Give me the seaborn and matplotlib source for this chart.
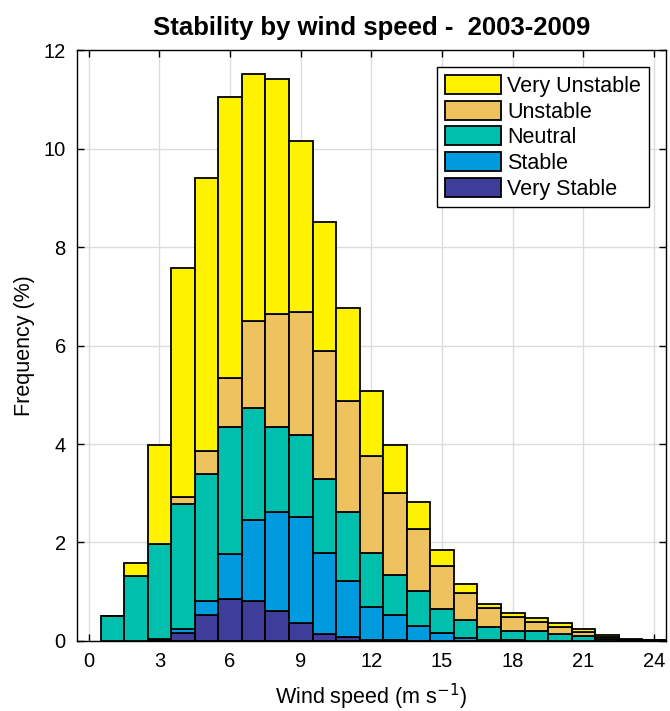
import numpy as np
import pandas as pd
import matplotlib
matplotlib.use("Agg")
import matplotlib.pyplot as plt
from matplotlib.patches import Patch
import seaborn as sns

# Wind speed bin centres (m/s), 1 m/s wide
speed = list(range(1, 25))

# Frequency (%) of each stability class per wind speed bin
very_stable = [0.00, 0.00, 0.01, 0.17, 0.52, 0.86, 0.82, 0.61, 0.36, 0.15, 0.08, 0.02,
               0.01, 0.00, 0.00, 0.00, 0.00, 0.00, 0.00, 0.00, 0.00, 0.00, 0.00, 0.00]
stable = [0.00, 0.00, 0.02, 0.08, 0.30, 0.91, 1.64, 2.01, 2.15, 1.63, 1.14, 0.67,
          0.51, 0.30, 0.17, 0.06, 0.02, 0.01, 0.00, 0.00, 0.00, 0.00, 0.00, 0.00]
neutral = [0.50, 1.32, 1.94, 2.54, 2.57, 2.58, 2.27, 1.73, 1.68, 1.50, 1.39, 1.10,
           0.82, 0.71, 0.48, 0.36, 0.27, 0.20, 0.21, 0.15, 0.10, 0.03, 0.01, 0.00]
unstable = [0.00, 0.00, 0.00, 0.14, 0.46, 1.00, 1.77, 2.30, 2.50, 2.61, 2.27, 1.97,
            1.66, 1.27, 0.88, 0.56, 0.38, 0.27, 0.18, 0.14, 0.08, 0.06, 0.01, 0.01]
very_unstable = [0.00, 0.27, 2.01, 4.65, 5.56, 5.70, 5.02, 4.77, 3.46, 2.61, 1.89, 1.32,
                 0.98, 0.55, 0.32, 0.17, 0.08, 0.08, 0.07, 0.07, 0.07, 0.03, 0.01, 0.01]

classes = ["Very Unstable", "Unstable", "Neutral", "Stable", "Very Stable"]
colors = ["#FFF200", "#EDC25F", "#00BFAD", "#009ADE", "#3E3D99"]

x_ticks = [0, 3, 6, 9, 12, 15, 18, 21, 24]
y_ticks = [0, 2, 4, 6, 8, 10, 12]

series = {
    "Very Unstable": very_unstable,
    "Unstable": unstable,
    "Neutral": neutral,
    "Stable": stable,
    "Very Stable": very_stable,
}
df = pd.concat(
    [pd.DataFrame({"speed": speed, "freq": vals, "stability": name})
     for name, vals in series.items()],
    ignore_index=True,
)

sns.set_theme(style="white")
plt.rcParams["font.family"] = ["Liberation Sans", "DejaVu Sans"]
plt.rcParams.update({
    "text.color": "black",
    "axes.labelcolor": "black",
    "xtick.color": "black",
    "ytick.color": "black",
})

fig = plt.figure(figsize=(6.70, 7.11), dpi=100)
ax = fig.add_axes([0.1149, 0.0985, 0.879, 0.831])

# First hue level ends up on top of the stack
sns.histplot(
    data=df, x="speed", weights="freq", hue="stability",
    hue_order=classes, palette=colors, multiple="stack",
    discrete=True, shrink=1.0, alpha=1.0,
    edgecolor="black", linewidth=1.3, legend=False, ax=ax,
)

ax.set_xlim(-0.5, 24.5)
ax.set_ylim(0, 12)
ax.set_xticks(x_ticks)
ax.set_yticks(y_ticks)
ax.set_axisbelow(True)
ax.grid(True, color="#DCDCDC", linewidth=1.0)
ax.tick_params(direction="in", length=5, width=1, colors="black",
               labelsize=14.5, top=True, right=True, bottom=True, left=True,
               labeltop=False, labelright=False, pad=8)
for s in ax.spines.values():
    s.set_color("black")
    s.set_linewidth(1.0)
    s.set_visible(True)

ax.set_xlabel("Wind speed (m s$^{-1}$)", fontsize=15.5, labelpad=8)
ax.set_ylabel("Frequency (%)", fontsize=15.5, labelpad=6)
ax.set_title("Stability by wind speed -  2003-2009", fontsize=18.5,
             fontweight="bold", pad=11, color="black")

handles = [Patch(facecolor=c, edgecolor="black", linewidth=1.3) for c in colors]
leg = ax.legend(handles, classes, loc="upper right", fontsize=15.5,
                frameon=True, fancybox=False, framealpha=1.0,
                edgecolor="black", handlelength=2.6, handleheight=1.0,
                handletextpad=0.3, labelspacing=0.17, borderpad=0.35,
                borderaxespad=0.8)
leg.get_frame().set_linewidth(1.0)

fig.savefig("out.png", dpi=100)
